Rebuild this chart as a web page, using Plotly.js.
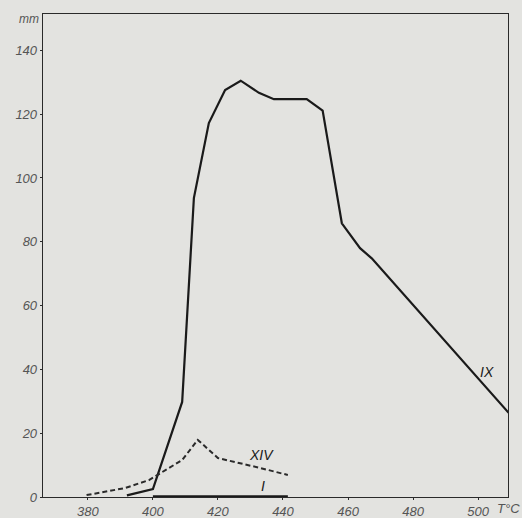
<!DOCTYPE html>
<html>
<head>
<meta charset="utf-8">
<script src="https://cdn.plot.ly/plotly-3.0.1.min.js"></script>
<style>html,body{margin:0;padding:0;background:#e3e3e0;}</style>
</head>
<body>
<div id="chart" style="width:522px;height:518px;"></div>
<script>
// Curve IX (solid)
const ixTemp = [392, 400, 409, 412.6, 417.2, 422.2, 427, 432.6, 437.2, 447.3, 452.2, 458.1, 463.7, 467.3, 509.4];
const ixVal  = [0.5, 2.5, 29.8, 93.7, 117.2, 127.6, 130.5, 126.7, 124.7, 124.7, 121.1, 85.8, 78, 74.8, 26.4];
// Curve XIV (dashed)
const xivTemp = [379.6, 391.4, 398.8, 409, 413.8, 420, 433, 441.5];
const xivVal  = [0.6, 2.8, 5.3, 11.6, 17.9, 12.2, 9.1, 6.9];
// Curve I (near zero)
const iTemp = [400, 441.5];
const iVal  = [0.25, 0.25];
const xTicks = [380, 400, 420, 440, 460, 480, 500];
const yTicks = [0, 20, 40, 60, 80, 100, 120, 140];

const tickFont = {family: 'Liberation Sans, Arial, sans-serif', size: 13, color: '#555555', style: 'italic'};
const data = [
  {x: ixTemp, y: ixVal, type: 'scatter', mode: 'lines', line: {color: '#1a1a1a', width: 2.2}, cliponaxis: false, hoverinfo: 'none'},
  {x: xivTemp, y: xivVal, type: 'scatter', mode: 'lines', line: {color: '#2a2a2a', width: 2, dash: '5px,3px'}, hoverinfo: 'none'},
  {x: iTemp, y: iVal, type: 'scatter', mode: 'lines', line: {color: '#1a1a1a', width: 2}, cliponaxis: false, hoverinfo: 'none'}
];
const layout = {
  width: 522, height: 518,
  margin: {l: 43, r: 14, t: 14, b: 21},
  paper_bgcolor: '#e3e3e0', plot_bgcolor: '#e3e3e0',
  showlegend: false,
  xaxis: {range: [366.2, 509.2], tickvals: xTicks, ticktext: xTicks.map(String), showgrid: false, zeroline: false,
          showline: true, mirror: true, linecolor: '#2a2a2a', linewidth: 1.3, ticks: 'outside', ticklen: 2, tickcolor: '#2a2a2a',
          tickfont: tickFont},
  yaxis: {range: [0, 151.4], tickvals: yTicks, ticktext: yTicks.map(String), showgrid: false, zeroline: false,
          showline: true, mirror: true, linecolor: '#2a2a2a', linewidth: 1.3, ticks: 'outside', ticklen: 2, tickcolor: '#2a2a2a',
          tickfont: tickFont},
  annotations: [
    {x: 433.5, y: 13.2, xref: 'x', yref: 'y', text: 'XIV', showarrow: false, font: {family: 'Liberation Sans, Arial', size: 14, color: '#1a1a1a', style: 'italic'}},
    {x: 433.8, y: 3.3, xref: 'x', yref: 'y', text: 'I', showarrow: false, font: {family: 'Liberation Sans, Arial', size: 14, color: '#1a1a1a', style: 'italic'}},
    {x: 502.8, y: 39.2, xref: 'x', yref: 'y', text: 'IX', showarrow: false, font: {family: 'Liberation Sans, Arial', size: 14, color: '#1a1a1a', style: 'italic'}},
    {x: -0.03, y: 0.99, xref: 'paper', yref: 'paper', text: 'mm', showarrow: false, xanchor: 'center', yanchor: 'middle', font: {family: 'Liberation Sans, Arial', size: 12, color: '#555555', style: 'italic'}},
    {x: 1.03, y: -0.024, xref: 'paper', yref: 'paper', text: 'T°C', showarrow: false, xanchor: 'right', yanchor: 'middle', font: {family: 'Liberation Sans, Arial', size: 13, color: '#555555', style: 'italic'}}
  ]
};
Plotly.newPlot('chart', data, layout, {displayModeBar: false, staticPlot: true});
</script>
</body>
</html>
